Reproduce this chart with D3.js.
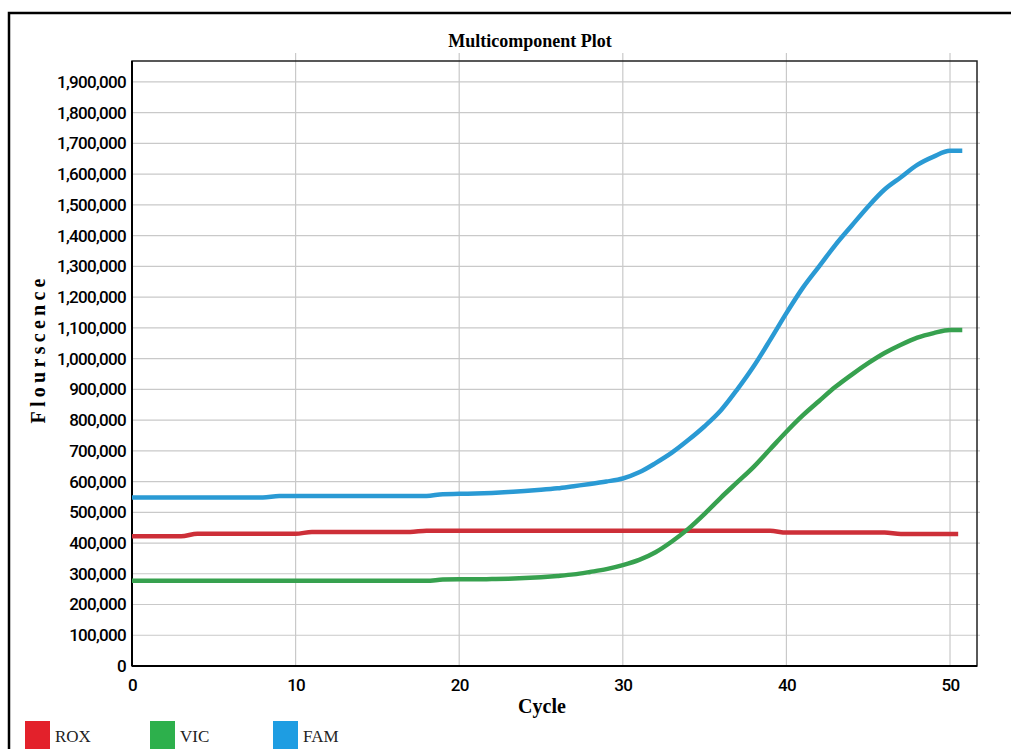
<!DOCTYPE html>
<html>
<head>
<meta charset="utf-8">
<script src="https://cdn.jsdelivr.net/npm/d3@7"></script>
<style>
    body { margin: 0; background: #fff; }
    svg { display: block; }
</style>
</head>
<body>
<svg id="grafico" width="1011" height="749"></svg>
<script>

// valores (ciclo 0..50)
const ciclos = d3.range(0, 51);

const rox = [
    422000, 422000, 422000, 422000,
    430000, 430000, 430000, 430000, 430000, 430000, 430000,
    436000, 436000, 436000, 436000, 436000, 436000, 436000,
    440000, 440000, 440000, 440000, 440000, 440000, 440000, 440000, 440000, 440000, 440000,
    440000, 440000, 440000, 440000, 440000, 440000, 440000, 440000, 440000, 440000, 440000,
    434000, 434000, 434000, 434000, 434000, 434000, 434000,
    429000, 429000, 429000, 429000
];

const vic = [
    277000, 277000, 277000, 277000, 277000, 277000, 277000, 277000, 277000, 277000,
    277000, 277000, 277000, 277000, 277000, 277000, 277000, 277000, 277000,
    281000, 282000, 282000, 283000, 284000, 286000, 289000, 293000, 298000, 306000,
    315000, 328000, 345000, 370000, 405000, 446000, 495000, 548000, 598000, 648000,
    705000, 762000, 815000, 862000, 908000, 948000, 985000, 1018000, 1045000, 1068000,
    1083000, 1093000
];

const fam = [
    548000, 548000, 548000, 548000, 548000, 548000, 548000, 548000, 548000,
    553000, 553000, 553000, 553000, 553000, 553000, 553000, 553000, 553000, 553000,
    559000, 560000, 561000, 563000, 566000, 569000, 573000, 578000, 585000, 592000,
    600000, 610000, 630000, 660000, 694000, 735000, 780000, 832000, 900000, 975000,
    1060000, 1148000, 1230000, 1300000, 1370000, 1433000, 1495000, 1550000, 1590000, 1630000,
    1657000, 1676000
];

// la traza se prolonga plana un poco despues del ultimo ciclo
const finCiclo = { ROX: 50.5, VIC: 50.75, FAM: 50.75 };

const ticksX = [0, 10, 20, 30, 40, 50];

const ticksY = [
    0, 100000, 200000, 300000, 400000, 500000, 600000, 700000, 800000, 900000,
    1000000, 1100000, 1200000, 1300000, 1400000, 1500000, 1600000, 1700000, 1800000, 1900000
];

const series = [
    { nombre: "ROX", valores: rox, color: "#cd2f38", leyenda: "#e3212b" },
    { nombre: "VIC", valores: vic, color: "#37a14f", leyenda: "#2db04c" },
    { nombre: "FAM", valores: fam, color: "#2a9ad4", leyenda: "#1e9de2" }
];

dibujar();

function dibujar() {

    const svg = d3.select("#grafico");

    const margin = { top: 61, right: 34, bottom: 83, left: 132 };
    const width = 1011;
    const height = 749;

    const x = d3.scaleLinear()
        .domain([0, 51.65])
        .range([margin.left, width - margin.right]);

    const y = d3.scaleLinear()
        .domain([0, 1968000])
        .range([height - margin.bottom, margin.top]);

    // marco exterior
    svg.append("path")
        .attr("d", `M9,${height} V13 H${width}`)
        .attr("fill", "none")
        .attr("stroke", "#000")
        .attr("stroke-width", 2.5);

    // rejilla
    svg.append("g")
        .selectAll("line")
        .data(ticksY.slice(1))
        .enter()
        .append("line")
        .attr("x1", margin.left)
        .attr("x2", width - margin.right + 3)
        .attr("y1", d => y(d))
        .attr("y2", d => y(d))
        .attr("stroke", "#c9c9c9")
        .attr("stroke-width", 1.2);

    svg.append("g")
        .selectAll("line")
        .data(ticksX.slice(1))
        .enter()
        .append("line")
        .attr("x1", d => x(d))
        .attr("x2", d => x(d))
        .attr("y1", margin.top - 8)
        .attr("y2", height - margin.bottom)
        .attr("stroke", "#c9c9c9")
        .attr("stroke-width", 1.2);

    // caja del area de trazado
    svg.append("rect")
        .attr("x", margin.left)
        .attr("y", margin.top)
        .attr("width", width - margin.right - margin.left)
        .attr("height", height - margin.bottom - margin.top)
        .attr("fill", "none")
        .attr("stroke", "#222")
        .attr("stroke-width", 1.5);

    svg.append("line")
        .attr("x1", margin.left).attr("x2", margin.left)
        .attr("y1", margin.top).attr("y2", height - margin.bottom)
        .attr("stroke", "#000").attr("stroke-width", 2);

    svg.append("line")
        .attr("x1", margin.left).attr("x2", width - margin.right)
        .attr("y1", height - margin.bottom).attr("y2", height - margin.bottom)
        .attr("stroke", "#000").attr("stroke-width", 2);

    // ejes
    const fuenteTicks = "'Liberation Sans Narrow', 'Roboto', sans-serif";

    const ejeY = svg.append("g")
        .attr("transform", `translate(${margin.left},0)`)
        .call(d3.axisLeft(y)
            .tickValues(ticksY)
            .tickSize(0)
            .tickPadding(6)
            .tickFormat(d3.format(",")));

    const ejeX = svg.append("g")
        .attr("transform", `translate(0,${height - margin.bottom})`)
        .call(d3.axisBottom(x)
            .tickValues(ticksX)
            .tickSize(0)
            .tickPadding(13)
            .tickFormat(d3.format("d")));

    [ejeY, ejeX].forEach(eje => {
        eje.select(".domain").remove();
        eje.selectAll("text")
            .attr("fill", "#000")
            .style("font-family", fuenteTicks)
            .style("font-weight", "500")
            .style("font-size", "17px")
            .style("letter-spacing", "-0.7px");
    });

    // lineas
    const linea = d3.line()
        .x(d => x(d[0]))
        .y(d => y(d[1]))
        .curve(d3.curveMonotoneX);

    series.forEach(s => {

        const puntos = ciclos.map((c, i) => [c, s.valores[i]]);
        puntos.push([finCiclo[s.nombre], s.valores[s.valores.length - 1]]);

        svg.append("path")
            .datum(puntos)
            .attr("fill", "none")
            .attr("stroke", s.color)
            .attr("stroke-width", 4.5)
            .attr("d", linea);

    });

    // titulos
    svg.append("text")
        .attr("x", 530)
        .attr("y", 47)
        .attr("text-anchor", "middle")
        .style("font-family", "'Liberation Serif', serif")
        .style("font-weight", "bold")
        .style("font-size", "18px")
        .text("Multicomponent Plot");

    svg.append("text")
        .attr("transform", "rotate(-90)")
        .attr("x", -351)
        .attr("y", 45)
        .attr("text-anchor", "middle")
        .attr("textLength", 145)
        .attr("lengthAdjust", "spacing")
        .style("font-family", "'Liberation Serif', serif")
        .style("font-weight", "bold")
        .style("font-size", "20px")
        .text("Flourscence");

    svg.append("text")
        .attr("x", 542)
        .attr("y", 713)
        .attr("text-anchor", "middle")
        .style("font-family", "'Liberation Serif', serif")
        .style("font-weight", "bold")
        .style("font-size", "20px")
        .text("Cycle");

    // leyenda
    const posLeyenda = [25, 150, 273];

    series.forEach((s, i) => {

        svg.append("rect")
            .attr("x", posLeyenda[i])
            .attr("y", 721)
            .attr("width", 25)
            .attr("height", 30)
            .attr("fill", s.leyenda);

        svg.append("text")
            .attr("x", posLeyenda[i] + 30)
            .attr("y", 742)
            .style("font-family", "'Liberation Serif', serif")
            .style("font-size", "17px")
            .attr("fill", "#222")
            .text(s.nombre);

    });

}
</script>
</body>
</html>
